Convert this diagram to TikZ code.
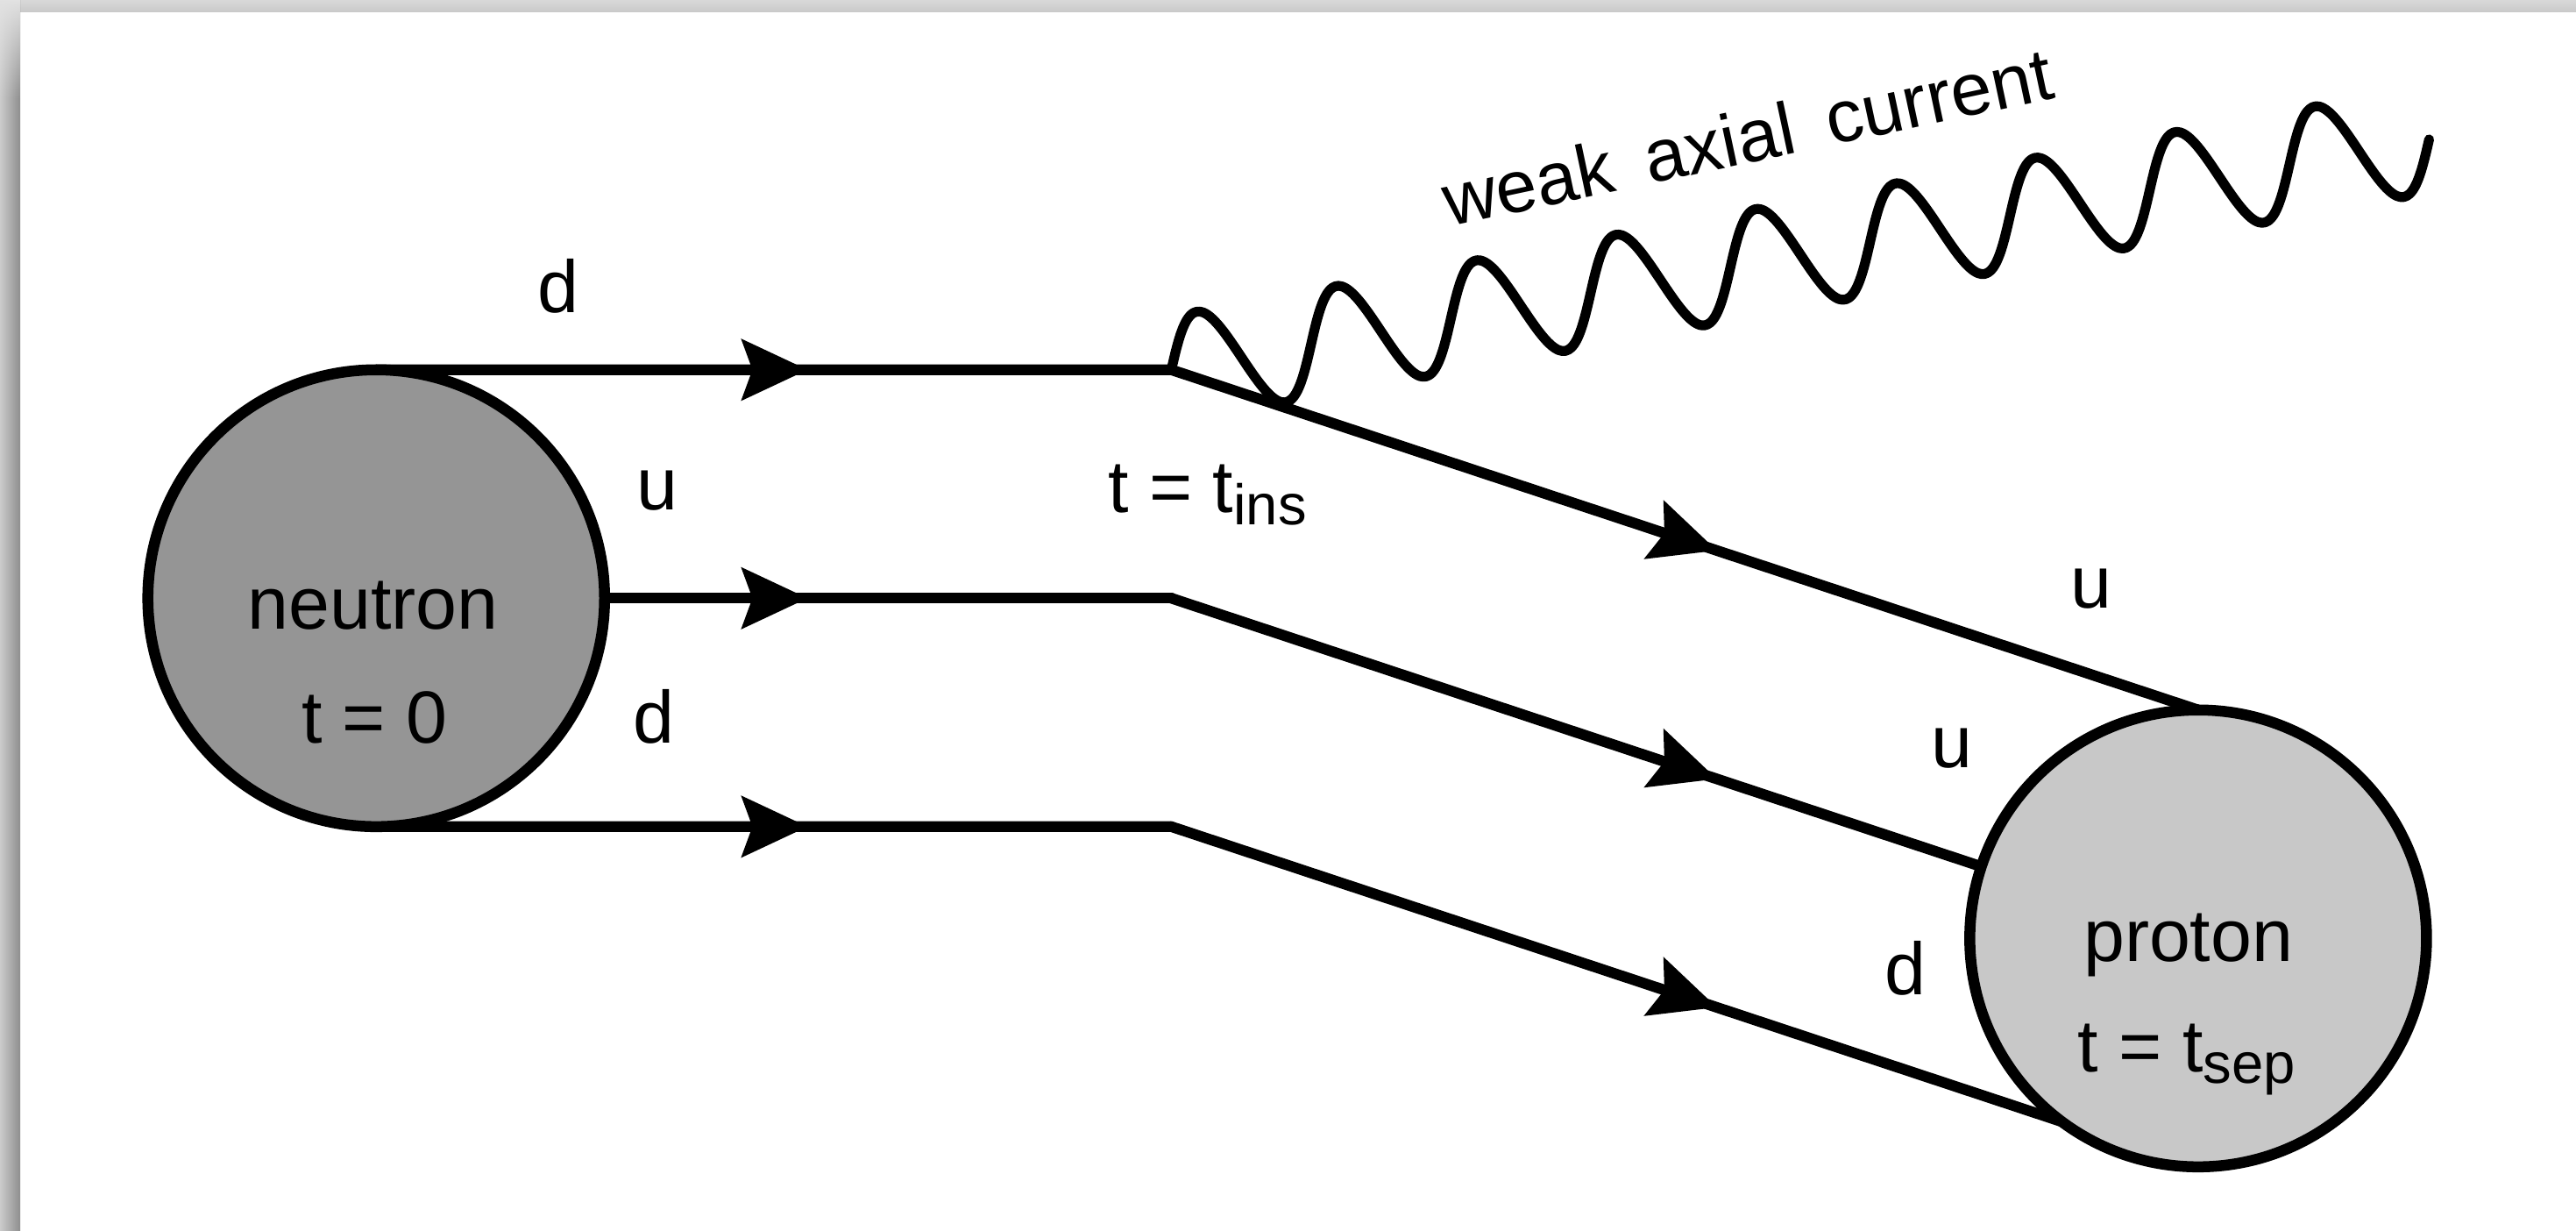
\documentclass[tikz,border=0pt]{standalone}
\usepackage{fontspec}
\setmainfont{Liberation Sans}
\usetikzlibrary{decorations.markings,backgrounds,fadings}

\definecolor{neutrongray}{HTML}{959595}
\definecolor{protongray}{HTML}{C8C8C8}
\definecolor{bartop}{HTML}{D8D8D8}
\definecolor{barbottom}{HTML}{CACACA}
\definecolor{sidelight}{HTML}{CBCBCB}
\definecolor{sidedark}{HTML}{8E8E8E}
\definecolor{cornerlight}{HTML}{E2E2E2}

% lowered, slightly reduced index text
\newcommand{\idx}[1]{\raisebox{-0.16em}{\fontsize{9.9pt}{10pt}\selectfont #1}}

\begin{document}
\begin{tikzpicture}[x=0.1mm, y=-0.1mm,
  every node/.style={font=\fontsize{12.8pt}{15pt}\selectfont, inner sep=0pt, outer sep=0pt},
  lbl/.style={anchor=base},
  hadron/.style={circle, draw=black, line width=1.9pt, minimum size=27.8mm},
  quark/.style={line width=1.85pt, line cap=round, postaction={decorate},
    decoration={markings, mark=at position 0.5 with
      {\fill (2.05mm,0) -- (-2mm,1.9mm) -- (-1.3mm,0) -- (-2mm,-1.9mm) -- cycle;}}},
  boson/.style={line width=1.7pt, line join=round, line cap=round}]

\useasboundingbox (0,0) rectangle (1568,749);

% hadrons
\node[hadron, fill=neutrongray] (neutron) at (229,364) {};
\node[hadron, fill=protongray] (proton) at (1338,571) {};

% vertices where the quark lines bend
\coordinate (v1) at (713,225);
\coordinate (v2) at (713,364);
\coordinate (v3) at (713,503);

\begin{scope}[on background layer]
  % page and window frame
  \fill[white] (0,0) rectangle (1568,749);
  \fill[top color=bartop, bottom color=barbottom] (0,0) rectangle (1568,7);
  \fill[left color=sidelight, right color=sidedark] (0,0) rectangle (12.3,749);
  \fill[cornerlight, path fading=south] (0,0) rectangle (12.3,60);

  % quark lines
  \draw[quark] (neutron.north) -- (v1);
  \draw[quark] (neutron.center) -- (v2);
  \draw[quark] (neutron.south) -- (v3);
  \draw[quark] (v1) -- (proton.north);
  \draw[quark] (v2) -- (proton.center);
  \draw[quark] (v3) -- (proton.south);
\end{scope}

% current insertion
\draw[boson, shift={(v1)}, rotate=10.4]
  plot[domain=0:9, samples=400, smooth] (\x*8.65mm, {3.2mm*sin(\x*360)});

% labels
\node[lbl] (dtop) at (340,190) {d};
\node[lbl] (umid) at (400,310) {u};
\node[lbl] (dbot) at (398,452) {d};
\node[lbl] (tins) at (735,312) {t = t\idx{ins}};
\node[lbl] (uone) at (1273,370) {u};
\node[lbl] (utwo) at (1188,467) {u};
\node[lbl] (dout) at (1160,605) {d};
\node[lbl] (ntext) at (227,383) {neutron};
\node[lbl] (nzero) at (228,452) {t = 0};
\node[lbl] (ptext) at (1332,585) {proton};
\node[lbl] (psep) at (1331,652) {t = t\idx{sep}};
\node[lbl, anchor=base west, rotate=12] (wac) at (882,138)
  {weak\hspace{0.45em}axial\hspace{0.45em}current};
\end{tikzpicture}
\end{document}
